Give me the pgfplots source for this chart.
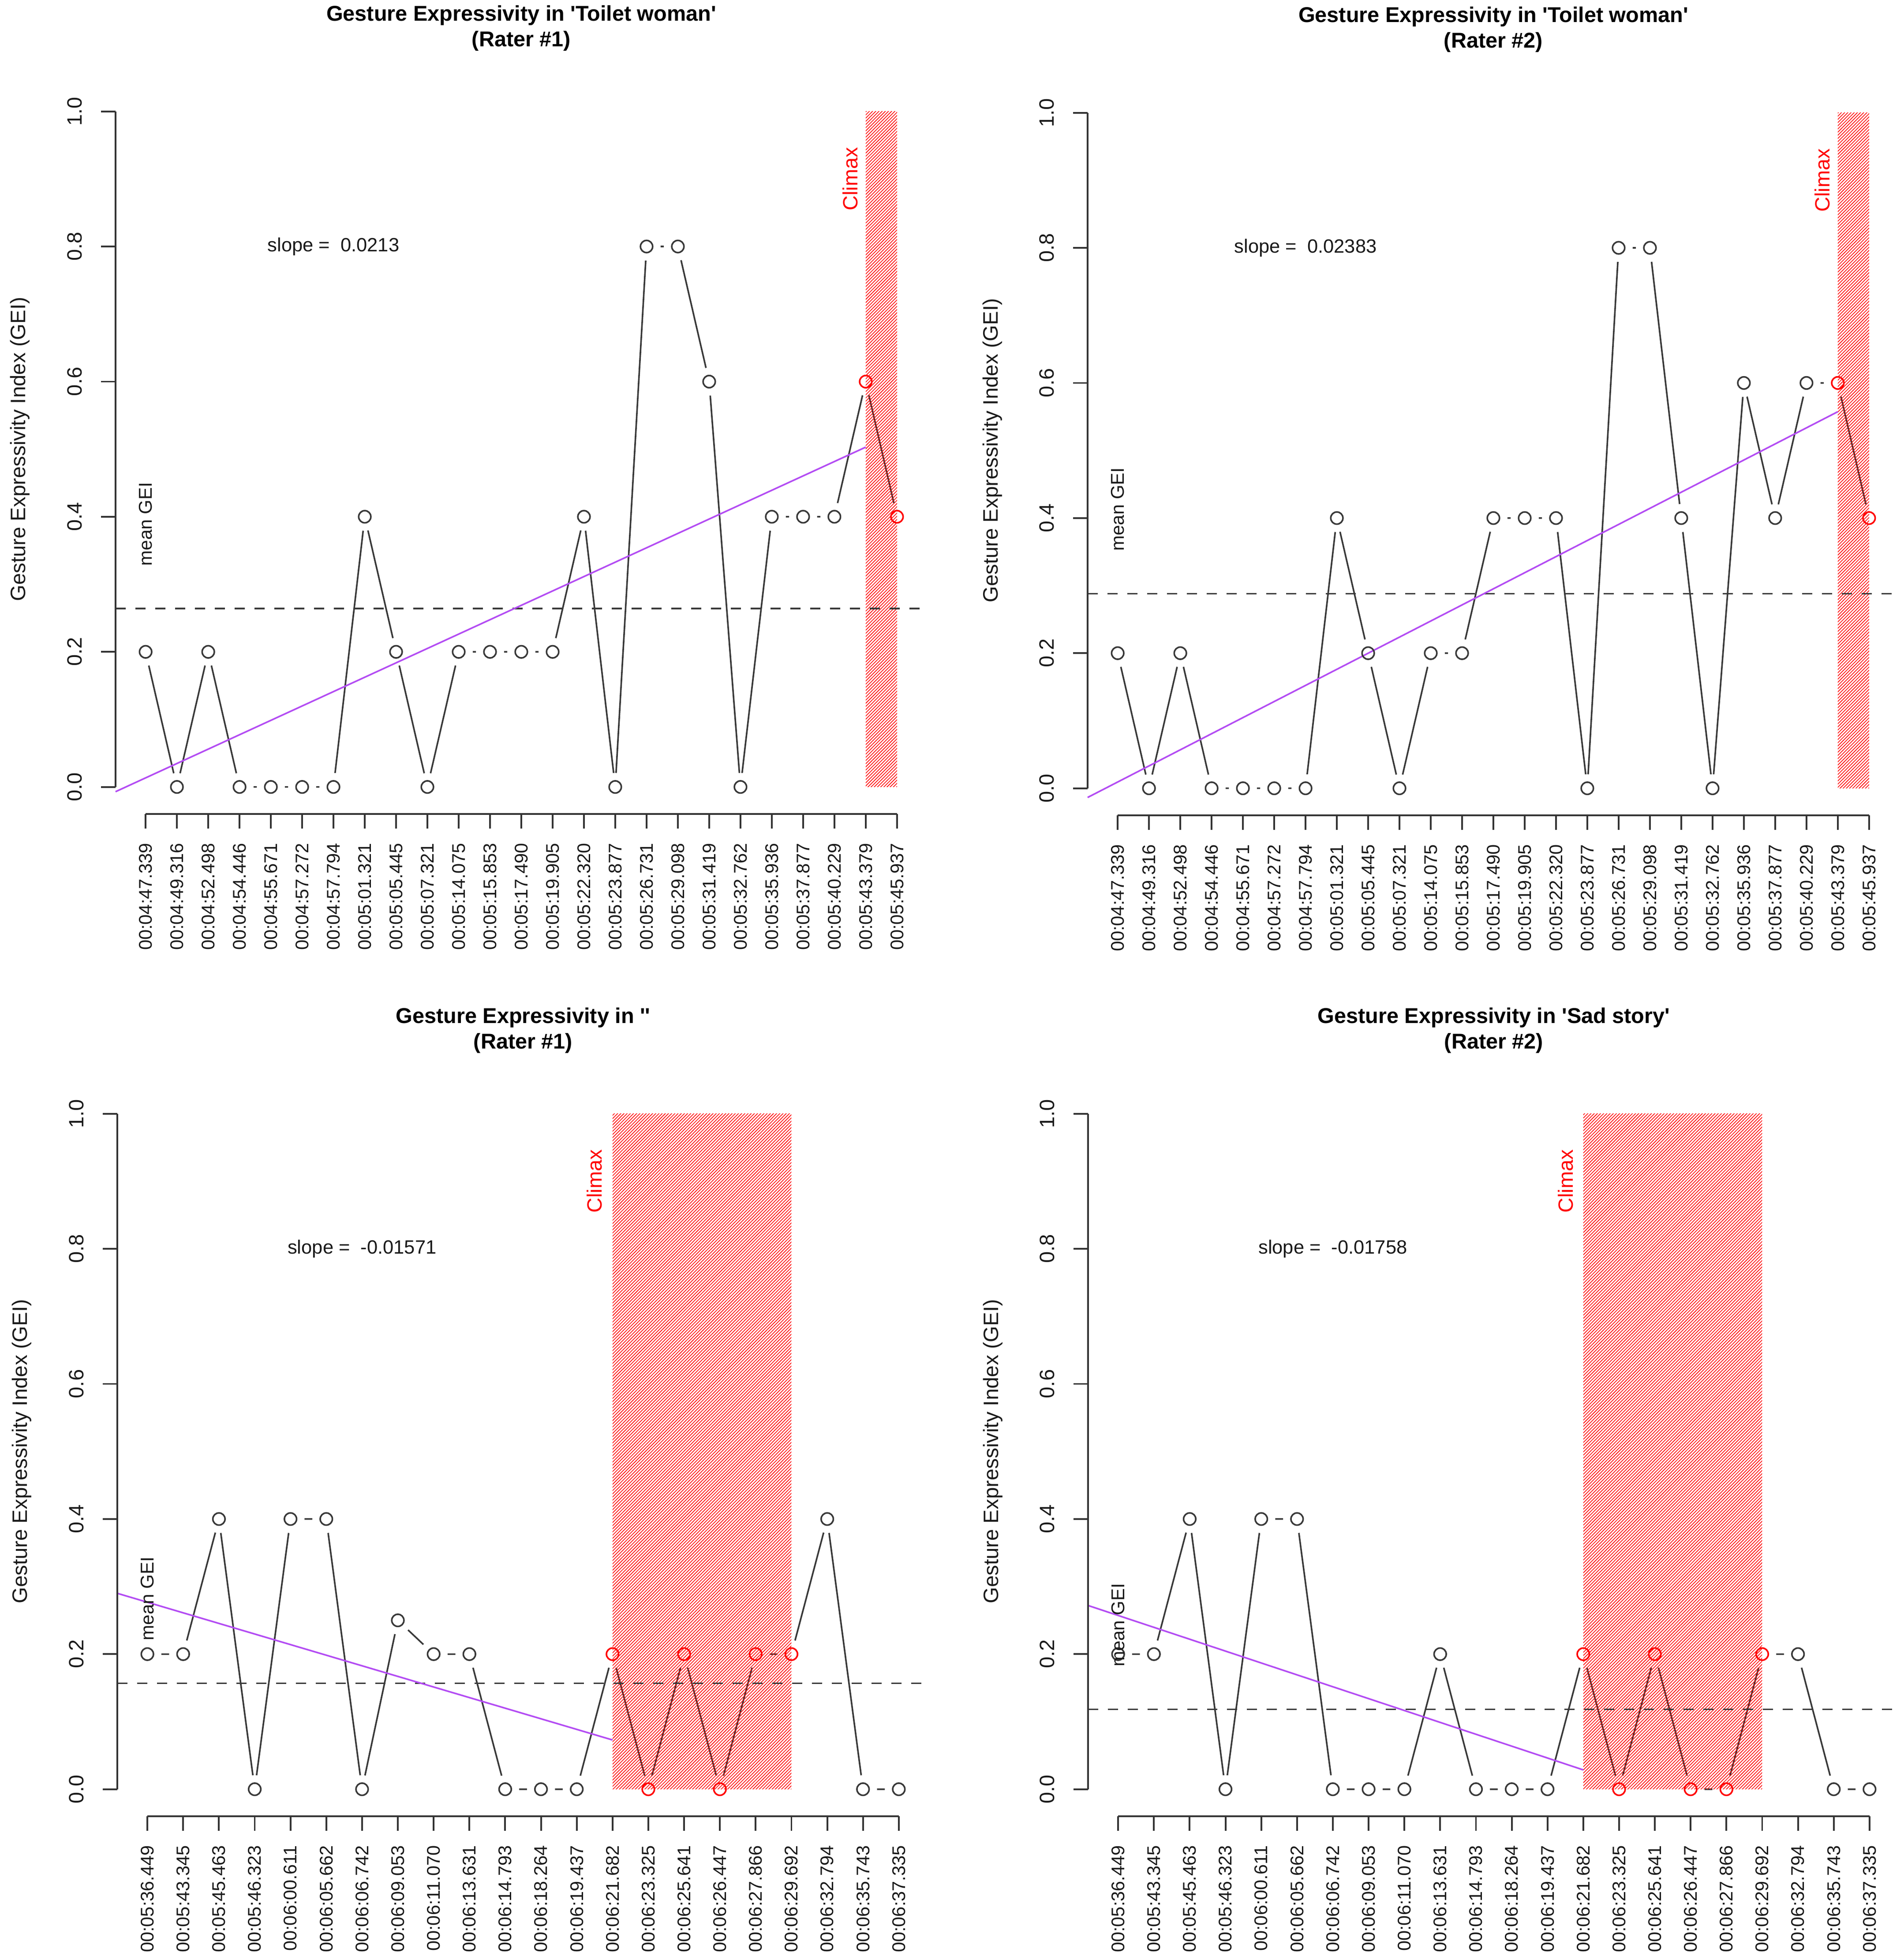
\documentclass[border=0pt]{standalone}
\usepackage{fontspec}
\setmainfont{Liberation Sans}
\usepackage{pgfplots}
\pgfplotsset{compat=1.18}
\usepackage{pgfplotstable}
\usetikzlibrary{patterns.meta}
\definecolor{rpurple}{HTML}{A020F0}
\definecolor{axc}{HTML}{333333}
\definecolor{lnc}{HTML}{383838}
\newcommand{\fs}[1]{\fontsize{#1}{#1}\selectfont}

% Toilet woman, rater 1
\pgfplotstableread{
x y
0 0.2
1 0
2 0.2
3 0
4 0
5 0
6 0
7 0.4
8 0.2
9 0
10 0.2
11 0.2
12 0.2
13 0.2
14 0.4
15 0
16 0.8
17 0.8
18 0.6
19 0
20 0.4
21 0.4
22 0.4
23 0.6
24 0.4
}\dataA
% Toilet woman, rater 2
\pgfplotstableread{
x y
0 0.2
1 0
2 0.2
3 0
4 0
5 0
6 0
7 0.4
8 0.2
9 0
10 0.2
11 0.2
12 0.4
13 0.4
14 0.4
15 0
16 0.8
17 0.8
18 0.4
19 0
20 0.6
21 0.4
22 0.6
23 0.6
24 0.4
}\dataB
% '' rater 1
\pgfplotstableread{
x y
0 0.2
1 0.2
2 0.4
3 0
4 0.4
5 0.4
6 0
7 0.25
8 0.2
9 0.2
10 0
11 0
12 0
13 0.2
14 0
15 0.2
16 0
17 0.2
18 0.2
19 0.4
20 0
21 0
}\dataC
% Sad story, rater 2
\pgfplotstableread{
x y
0 0.2
1 0.2
2 0.4
3 0
4 0.4
5 0.4
6 0
7 0
8 0
9 0.2
10 0
11 0
12 0
13 0.2
14 0
15 0.2
16 0
17 0
18 0.2
19 0.2
20 0
21 0
}\dataD

\pgfplotsset{
  rbase/.style={
    scale only axis, width=306.667pt, height=275.77pt,
    anchor=south west,
    ymin=-0.04, ymax=1.04, clip=false, clip marker paths=true,
    axis lines=left, axis line style={draw=none,-},
    major tick length=0pt, major tick style={draw=none},
    ytick={0,0.2,0.4,0.6,0.8,1},
    yticklabels={0.0,0.2,0.4,0.6,0.8,1.0},
    xticklabel style={rotate=90, anchor=east, inner sep=0pt, font=\fs{6.93}, text=black!90},
    yticklabel style={rotate=90, anchor=base, inner sep=0pt, font=\fs{7.83}, text=black!90},
    xticklabel shift=10.83pt, yticklabel shift=12.83pt,
  },
  labsA/.style={xmin=-0.96, xmax=24.96, xtick={0,...,24},
    xticklabels={00:04:47.339,00:04:49.316,00:04:52.498,00:04:54.446,00:04:55.671,00:04:57.272,00:04:57.794,00:05:01.321,00:05:05.445,00:05:07.321,00:05:14.075,00:05:15.853,00:05:17.490,00:05:19.905,00:05:22.320,00:05:23.877,00:05:26.731,00:05:29.098,00:05:31.419,00:05:32.762,00:05:35.936,00:05:37.877,00:05:40.229,00:05:43.379,00:05:45.937}},
  labsB/.style={xmin=-0.84, xmax=21.84, xtick={0,...,21},
    xticklabels={00:05:36.449,00:05:43.345,00:05:45.463,00:05:46.323,00:06:00.611,00:06:05.662,00:06:06.742,00:06:09.053,00:06:11.070,00:06:13.631,00:06:14.793,00:06:18.264,00:06:19.437,00:06:21.682,00:06:23.325,00:06:25.641,00:06:26.447,00:06:27.866,00:06:29.692,00:06:32.794,00:06:35.743,00:06:37.335}},
  gline/.style={lnc, line width=0.6pt},
  gmask/.style={only marks, white, mark=*, mark size=5.25pt, mark options={fill=white, draw=white, line width=0.1pt}},
  climax/.style={draw=none, pattern={Lines[angle=45,distance=0.85pt,line width=0.27pt]}, pattern color=red},
  meanl/.style={lnc, line width=0.6pt, dash pattern=on 3.9pt off 3.6pt},
  regl/.style={rpurple!80!white, line width=0.6pt},
  bmark/.style={only marks, mark=o, mark size=2.3pt, mark options={line width=0.6pt, draw=lnc}},
  rmark/.style={only marks, mark=o, mark size=2.3pt, mark options={line width=0.6pt, draw=red}},
}

\newcommand{\raxes}[2]{%
  \draw[axc, line width=0.65pt] (axis cs:0,-0.04) -- (axis cs:#1,-0.04);
  \draw[axc, line width=0.65pt] (axis cs:#2,0) -- (axis cs:#2,1);
  \pgfplotsinvokeforeach{0,...,#1}{\draw[axc, line width=0.65pt] (axis cs:##1,-0.04) -- ++(0pt,-5.5pt);}
  \pgfplotsinvokeforeach{0,0.2,0.4,0.6,0.8,1}{\draw[axc, line width=0.65pt] (axis cs:#2,##1) -- ++(-5.5pt,0pt);}
}
\newcommand{\rtitle}[2]{%
  \node[font=\bfseries\fs{8.1}, anchor=base, yshift=24pt, text=black] at (rel axis cs:0.5,1) {#1};
  \node[font=\bfseries\fs{8.1}, anchor=base, yshift=14.33pt, text=black] at (rel axis cs:0.5,1) {#2};
  \node[xshift=-34pt, rotate=90, anchor=base, font=\fs{7.9}, text=black!90] at (rel axis cs:0,0.5) {Gesture Expressivity Index (GEI)};
}

\begin{document}
\begin{tikzpicture}
\useasboundingbox (0,0) rectangle (719.5pt,740.833pt);

% ---------- Panel 1 ----------
\begin{axis}[rbase, labsA, at={(43.667pt,433.167pt)}]
  \addplot[gline] table {\dataA};
  \addplot[gmask] table {\dataA};
  \addplot[climax] coordinates {(23,0) (23,1) (24,1) (24,0)};
  \addplot[meanl] coordinates {(-0.96,0.264) (24.96,0.264)};
  \addplot[regl] coordinates {(-0.96,-0.007) (23,0.503)};
  \addplot[bmark, restrict x to domain=0:22] table {\dataA};
  \addplot[rmark, restrict x to domain=23:24] table {\dataA};
  \node[font=\fs{7.25}, text=black!90] at (axis cs:6,0.8) {slope = \ 0.0213};
  \node[rotate=90, font=\fs{7}, text=black!90] at (axis cs:0,0.389) {mean GEI};
  \node[rotate=90, font=\fs{7.8}, text=red] at (axis cs:22.5,0.9) {Climax};
  \raxes{24}{-0.96}
  \rtitle{Gesture Expressivity in \textquotesingle Toilet woman\textquotesingle}{(Rater \#1)}
\end{axis}

% ---------- Panel 2 ----------
\begin{axis}[rbase, labsA, at={(411pt,432.667pt)}]
  \addplot[gline] table {\dataB};
  \addplot[gmask] table {\dataB};
  \addplot[climax] coordinates {(23,0) (23,1) (24,1) (24,0)};
  \addplot[meanl] coordinates {(-0.96,0.288) (24.96,0.288)};
  \addplot[regl] coordinates {(-0.96,-0.0136) (23,0.5574)};
  \addplot[bmark, restrict x to domain=0:22] table {\dataB};
  \addplot[rmark, restrict x to domain=23:24] table {\dataB};
  \node[font=\fs{7.25}, text=black!90] at (axis cs:6,0.8) {slope = \ 0.02383};
  \node[rotate=90, font=\fs{7}, text=black!90] at (axis cs:0,0.413) {mean GEI};
  \node[rotate=90, font=\fs{7.8}, text=red] at (axis cs:22.5,0.9) {Climax};
  \raxes{24}{-0.96}
  \rtitle{Gesture Expressivity in \textquotesingle Toilet woman\textquotesingle}{(Rater \#2)}
\end{axis}

% ---------- Panel 3 ----------
\begin{axis}[rbase, labsB, at={(44.333pt,54.333pt)}]
  \addplot[gline] table {\dataC};
  \addplot[gmask] table {\dataC};
  \addplot[climax] coordinates {(13,0) (13,1) (18,1) (18,0)};
  \addplot[meanl] coordinates {(-0.84,0.1568) (21.84,0.1568)};
  \addplot[regl] coordinates {(-0.84,0.290) (13,0.0729)};
  \addplot[bmark, restrict x to domain=0:12] table {\dataC};
  \addplot[bmark, restrict x to domain=19:21] table {\dataC};
  \addplot[rmark, restrict x to domain=13:18] table {\dataC};
  \node[font=\fs{7.25}, text=black!90] at (axis cs:6,0.8) {slope = \ -0.01571};
  \node[rotate=90, font=\fs{7}, text=black!90] at (axis cs:0,0.282) {mean GEI};
  \node[rotate=90, font=\fs{7.8}, text=red] at (axis cs:12.5,0.9) {Climax};
  \raxes{21}{-0.84}
  \rtitle{Gesture Expressivity in \textquotesingle\textquotesingle}{(Rater \#1)}
\end{axis}

% ---------- Panel 4 ----------
\begin{axis}[rbase, labsB, at={(411.167pt,54.333pt)}]
  \addplot[gline] table {\dataD};
  \addplot[gmask] table {\dataD};
  \addplot[climax] coordinates {(13,0) (13,1) (18,1) (18,0)};
  \addplot[meanl] coordinates {(-0.84,0.1182) (21.84,0.1182)};
  \addplot[regl] coordinates {(-0.84,0.272) (13,0.0286)};
  \addplot[bmark, restrict x to domain=0:12] table {\dataD};
  \addplot[bmark, restrict x to domain=19:21] table {\dataD};
  \addplot[rmark, restrict x to domain=13:18] table {\dataD};
  \node[font=\fs{7.25}, text=black!90] at (axis cs:6,0.8) {slope = \ -0.01758};
  \node[rotate=90, font=\fs{7}, text=black!90] at (axis cs:0,0.243) {mean GEI};
  \node[rotate=90, font=\fs{7.8}, text=red] at (axis cs:12.5,0.9) {Climax};
  \raxes{21}{-0.84}
  \rtitle{Gesture Expressivity in \textquotesingle Sad story\textquotesingle}{(Rater \#2)}
\end{axis}
\end{tikzpicture}
\end{document}
